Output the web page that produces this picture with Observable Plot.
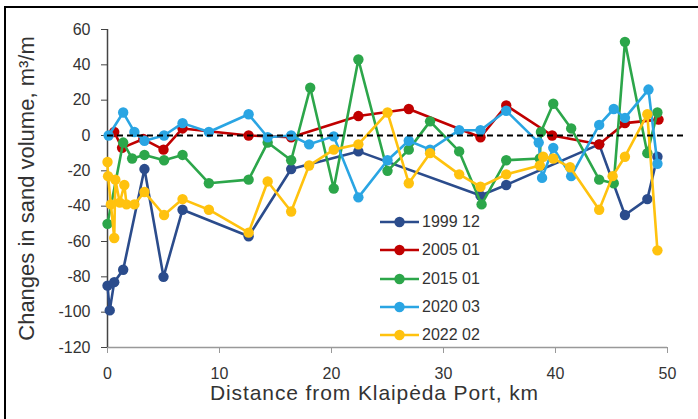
<!DOCTYPE html>
<html>
<head>
<meta charset="utf-8">
<script src="https://cdn.jsdelivr.net/npm/d3@7"></script>
<script src="https://cdn.jsdelivr.net/npm/@observablehq/plot@0.6"></script>
<style>
  html, body { margin: 0; padding: 0; background: #fff; overflow: hidden; }
  #wrap { position: relative; width: 698px; height: 419px; overflow: hidden; font-family: "Liberation Sans", Arial, sans-serif; }
  #border { position: absolute; left: 4px; top: 6px; width: 800px; height: 600px; border: 2.5px solid #000; box-sizing: border-box; pointer-events: none; }
  #chart { position: absolute; left: 0; top: 0; }
  #legend { position: absolute; left: 380px; top: 208px; }
  .item { display: flex; align-items: center; height: 28.3px; font-size: 16px; color: #333; }
  .item svg { margin-right: 3px; }
</style>
</head>
<body>
<div id="wrap">
  <div id="border"></div>
  <div id="chart"></div>
  <div id="legend"></div>
</div>
<script>
// ---- data ----
const seriesNames = ["1999 12", "2005 01", "2015 01", "2020 03", "2022 02"];
const seriesColors = ["#2B4C8C", "#C00000", "#2CA64A", "#2AA5E3", "#FFC20E"];

const km1999 = [0, 0.2, 0.6, 1.4, 3.3, 5.0, 6.7, 12.6, 16.4, 22.4, 33.3, 35.6, 43.9, 46.2, 48.2, 49.1];
const val1999 = [-85, -99, -83, -76, -19, -80, -42, -57, -19, -9, -34, -28, -5, -45, -36, -12];

const km2005 = [0.6, 1.3, 3.2, 5.0, 6.7, 12.6, 16.4, 22.4, 26.9, 33.3, 35.6, 39.7, 43.9, 46.2, 49.2];
const val2005 = [2, -7, -2, -8, 4, 0, -1, 11, 15, -1, 17, 0, -5, 7, 9];

const km2015 = [0, 1.4, 2.2, 3.3, 5.05, 6.7, 9.05, 12.6, 14.3, 16.4, 18.1, 20.2, 22.4, 25.0, 26.9, 28.8, 31.4, 33.4, 35.6, 38.6, 38.7, 39.8, 41.4, 43.9, 45.2, 46.2, 48.2, 49.1];
const val2015 = [-50, -4, -13, -11, -14, -11, -27, -25, -4, -14, 27, -30, 43, -20, -8, 8, -9, -39, -14, -13, 2, 18, 4, -25, -27, 53, -10, 13];

const km2020 = [0.1, 1.4, 2.4, 3.3, 5.05, 6.7, 9.05, 12.6, 14.3, 16.4, 18.0, 20.2, 22.4, 25.0, 26.9, 28.8, 31.4, 33.3, 35.6, 38.5, 38.8, 39.8, 41.4, 43.9, 45.2, 46.2, 48.3, 49.1];
const val2020 = [0, 13, 2, -3, 0, 7, 2, 12, -1, 0, -5, -0.5, -35, -14, -3, -8, 3, 3, 14, -4, -24, -7, -23, 6, 15, 10, 26, -16];

const km2022 = [0, 0.05, 0.3, 0.6, 0.7, 1.1, 1.5, 1.7, 2.4, 3.3, 5.05, 6.7, 9.05, 12.6, 14.3, 16.4, 18.0, 20.2, 22.4, 25.0, 26.9, 28.8, 31.4, 33.3, 35.6, 38.6, 38.9, 39.8, 41.3, 43.9, 45.1, 46.2, 48.2, 49.1];
const val2022 = [-15, -23, -39, -58, -25, -38, -28, -39, -39, -32, -45, -36, -42, -55, -26, -43, -17, -8, -5, 13, -27, -10, -22, -29, -22, -17, -12, -13, -18, -42, -23, -12, 12, -65];

const xTicks = [0, 10, 20, 30, 40, 50];
const yTicks = [-120, -100, -80, -60, -40, -20, 0, 20, 40, 60];
const xLabel = "Distance from Klaipėda Port, km";
const yLabel = "Changes in sand volume, m³/m";

// ---- build ----
const allKm = [km1999, km2005, km2015, km2020, km2022];
const allVal = [val1999, val2005, val2015, val2020, val2022];
const rows = [];
allKm.forEach((kms, i) => kms.forEach((k, j) => rows.push({series: seriesNames[i], km: k, v: allVal[i][j]})));

const seriesMarks = [];
seriesNames.forEach((name, i) => {
  const d = rows.filter(r => r.series === name);
  seriesMarks.push(Plot.line(d, {x: "km", y: "v", stroke: seriesColors[i], strokeWidth: 2.6}));
  seriesMarks.push(Plot.dot(d, {x: "km", y: "v", r: 5.2, fill: seriesColors[i], stroke: "none"}));
});

const chart = Plot.plot({
  width: 698,
  height: 419,
  marginLeft: 107,
  marginRight: 31,
  marginTop: 29,
  marginBottom: 72,
  style: {fontFamily: "'Liberation Sans', Arial, sans-serif", background: "transparent", color: "#333", overflow: "visible"},
  x: {domain: [0, 50], ticks: xTicks, label: null},
  y: {domain: [-120, 60], ticks: yTicks, label: null},
  marks: [
    Plot.axisX({ticks: xTicks, tickSize: 6, tickPadding: 14, fontSize: 16, stroke: "#999", fill: "#333", label: null}),
    Plot.axisY({ticks: yTicks, tickSize: 6, tickPadding: 11, fontSize: 16, stroke: "#444", fill: "#333", label: null, tickFormat: d => String(d)}),
    Plot.ruleY([-120], {stroke: "#999", strokeWidth: 1.5}),
    Plot.ruleX([0], {stroke: "#444", strokeWidth: 1.5}),
    ...seriesMarks,
    Plot.ruleY([0], {x1: 0, x2: 51.5, stroke: "#000", strokeWidth: 2, strokeDasharray: "6,4"}),
    Plot.text([xLabel], {frameAnchor: "bottom", textAnchor: "middle", dx: -13, dy: 52, fontSize: 21, fill: "#333", text: d => d}),
    Plot.text([yLabel], {frameAnchor: "left", textAnchor: "middle", dx: -81, rotate: -90, fontSize: 22, fill: "#333", text: d => d})
  ]
});
d3.select(chart).selectAll("text").filter(function() { return this.textContent === xLabel; }).attr("letter-spacing", "0.9px");
document.getElementById("chart").appendChild(chart);

const leg = document.getElementById("legend");
seriesNames.forEach((name, i) => {
  const div = document.createElement("div");
  div.className = "item";
  div.innerHTML = `<svg width="39" height="14"><line x1="0" y1="7" x2="39" y2="7" stroke="${seriesColors[i]}" stroke-width="2.6"/><circle cx="19.5" cy="7" r="5.2" fill="${seriesColors[i]}"/></svg><span>${name}</span>`;
  leg.appendChild(div);
});
</script>
</body>
</html>
